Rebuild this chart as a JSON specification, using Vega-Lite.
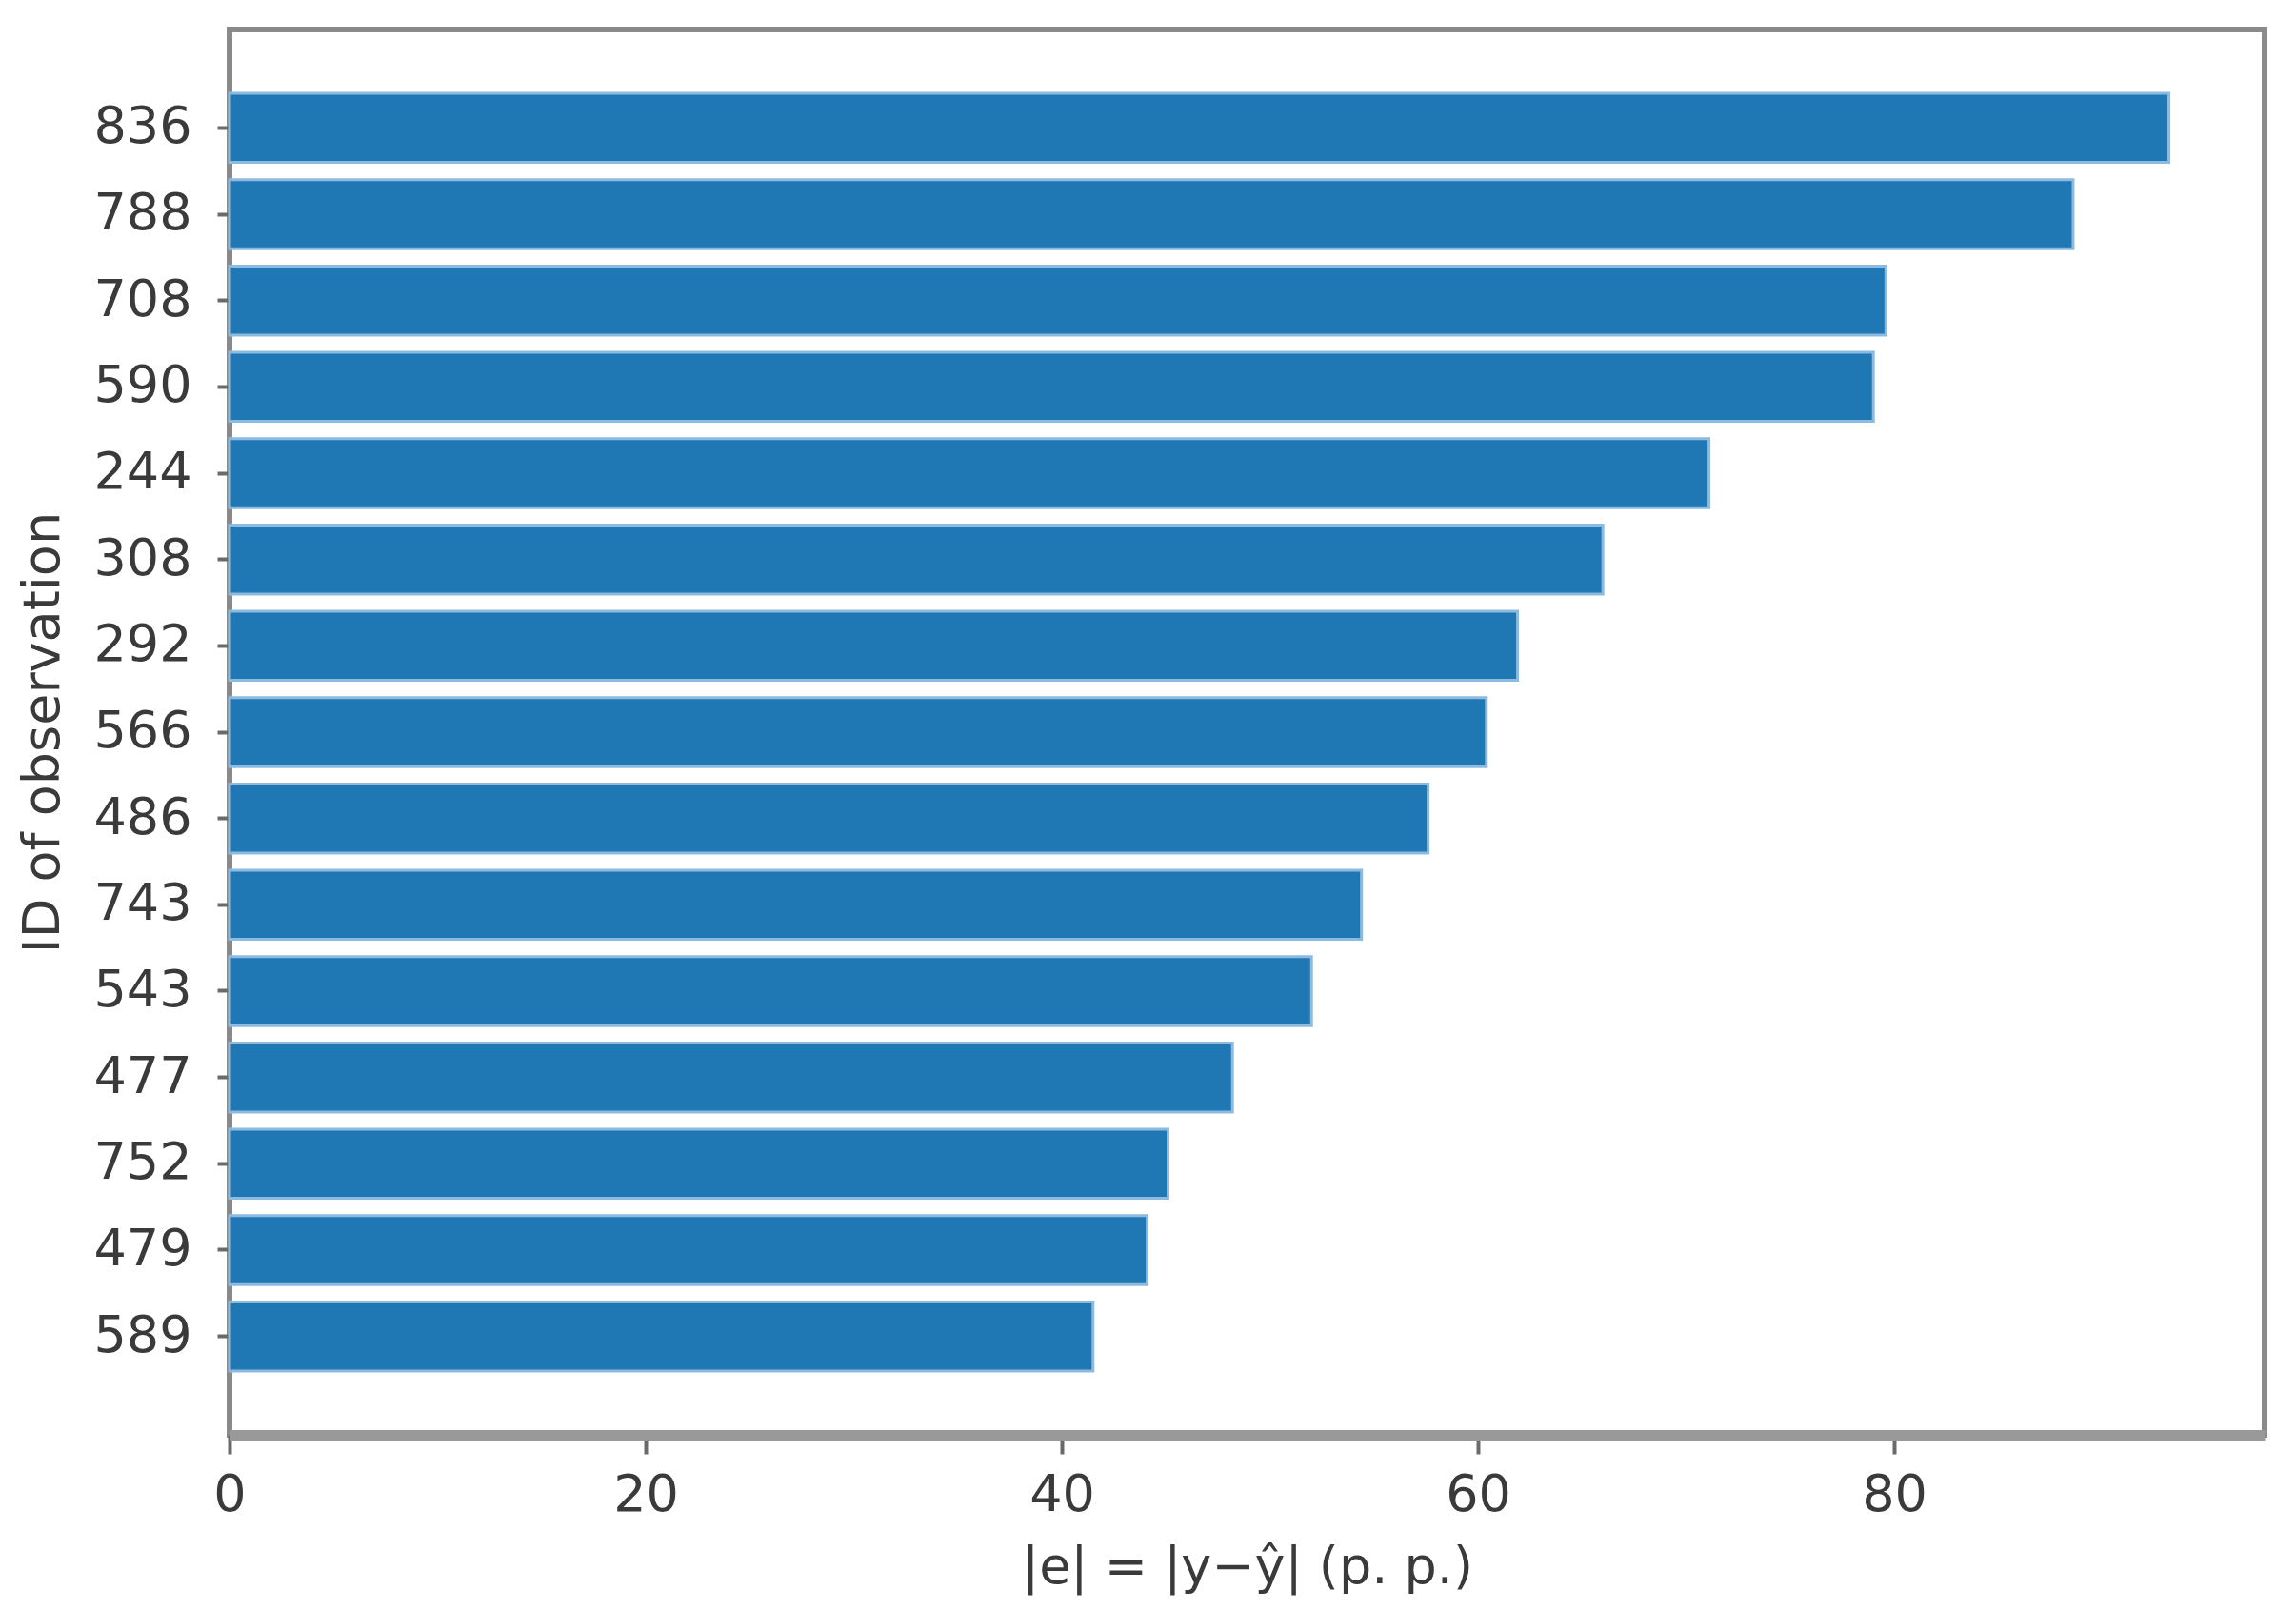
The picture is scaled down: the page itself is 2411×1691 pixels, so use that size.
{
  "$schema": "https://vega.github.io/schema/vega-lite/v6.json",
  "width": 2137,
  "height": 1476,
  "autosize": "none",
  "padding": {"left": 241, "top": 31, "right": 33, "bottom": 184},
  "background": "white",
  "config": {
    "font": "DejaVu Sans",
    "view": {"stroke": "#8a8a8a", "strokeWidth": 6},
    "axis": {
      "labelFont": "DejaVu Sans",
      "titleFont": "DejaVu Sans",
      "labelFontSize": 54,
      "titleFontSize": 54,
      "titleFontWeight": "normal",
      "labelColor": "#3a3a3a",
      "titleColor": "#3a3a3a",
      "tickColor": "#6a6a6a",
      "tickWidth": 4,
      "grid": false
    }
  },
  "data": {
    "values": [
      {"id": "836", "abs_error": 93.2},
      {"id": "788", "abs_error": 88.6},
      {"id": "708", "abs_error": 79.6},
      {"id": "590", "abs_error": 79.0},
      {"id": "244", "abs_error": 71.1},
      {"id": "308", "abs_error": 66.0},
      {"id": "292", "abs_error": 61.9},
      {"id": "566", "abs_error": 60.4},
      {"id": "486", "abs_error": 57.6},
      {"id": "743", "abs_error": 54.4},
      {"id": "543", "abs_error": 52.0},
      {"id": "477", "abs_error": 48.2},
      {"id": "752", "abs_error": 45.1},
      {"id": "479", "abs_error": 44.1},
      {"id": "589", "abs_error": 41.5}
    ]
  },
  "mark": {"type": "bar", "color": "#1f77b4", "stroke": "#8dbbe0", "strokeWidth": 3},
  "encoding": {
    "y": {
      "field": "id",
      "type": "nominal",
      "sort": "-x",
      "title": "ID of observation",
      "scale": {"paddingInner": 0.2, "paddingOuter": 0.74},
      "axis": {
        "domain": false,
        "tickSize": 13,
        "labelPadding": 27,
        "titlePadding": 25
      }
    },
    "x": {
      "field": "abs_error",
      "type": "quantitative",
      "title": "|e| = |y−ŷ| (p. p.)",
      "scale": {"domain": [0, 97.8], "nice": false},
      "axis": {
        "values": [0, 20, 40, 60, 80],
        "labelFlush": false,
        "domain": true,
        "domainColor": "#999999",
        "domainWidth": 11,
        "tickSize": 20,
        "labelPadding": 16,
        "titlePadding": 22
      }
    }
  }
}
